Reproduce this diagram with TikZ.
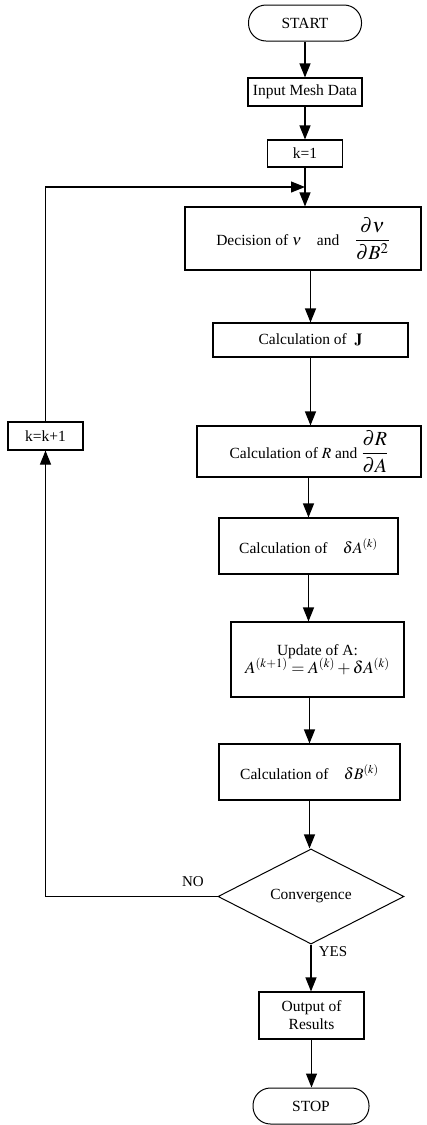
\documentclass[tikz,border=0pt]{standalone}
\usepackage{mathptmx}
\usepackage{amsmath}
\usepackage[no-math]{fontspec}
\setmainfont{Liberation Serif}
\usetikzlibrary{arrows.meta,shapes.geometric}
\begin{document}
\begin{tikzpicture}[x=1pt,y=-1pt,
  box/.style={draw,line width=1.1pt,rectangle,inner sep=0pt,align=center,font=\fontsize{15.5}{18}\selectfont},
  term/.style={draw,line width=1pt,rectangle,rounded corners=17.5pt,inner sep=0pt,font=\fontsize{15.5}{18}\selectfont},
  decis/.style={draw,line width=1pt,diamond,inner sep=0pt,font=\fontsize{15.5}{18}\selectfont},
  lbl/.style={inner sep=0pt,font=\fontsize{15}{18}\selectfont},
  ln/.style={line width=1.1pt},
  arr/.style={line width=1.1pt,-{Triangle[length=14pt,width=11pt]}}]
\useasboundingbox (0,0) rectangle (427,1125);
\node[term,minimum width=113pt,minimum height=36pt] (start) at (305,23) {START};
\node[box,minimum width=114pt,minimum height=28pt] (input) at (305,92) {Input Mesh Data};
\node[box,minimum width=75pt,minimum height=27pt] (k1) at (305,153.5) {k=1};
\node[box,minimum width=236pt,minimum height=63pt] (dec) at (303,238.5)
  {Decision of $\nu$\quad and\quad {\fontsize{20}{23}\selectfont$\dfrac{\partial\nu}{\partial B^{2}}$}};
\node[box,minimum width=195pt,minimum height=34pt] (calcJ) at (310.5,340) {Calculation of\ \ $\mathbf{J}$};
\node[box,minimum width=224pt,minimum height=51pt] (calcR) at (309,451.5)
  {Calculation of\ $R$ and {\fontsize{20}{23}\selectfont$\dfrac{\partial R}{\partial A}$}};
\node[box,minimum width=179pt,minimum height=56pt] (dA) at (308.5,546)
  {Calculation of\quad {\fontsize{16}{19}\selectfont$\delta A^{(k)}$}};
\node[box,minimum width=173pt,minimum height=75pt] (upd) at (317.5,659.5)
  {Update of A:\\[-2pt] {\fontsize{17}{20}\selectfont$A^{(k+1)}=A^{(k)}+\delta A^{(k)}$}};
\node[box,minimum width=181pt,minimum height=56pt] (dB) at (309.5,772)
  {Calculation of\quad {\fontsize{16}{19}\selectfont$\delta B^{(k)}$}};
\node[decis,minimum width=186pt,minimum height=83pt] (conv) at (311,896.5) {Convergence};
\node[box,minimum width=75pt,minimum height=28pt] (kk) at (45.5,436) {k=k+1};
\node[box,minimum width=105pt,minimum height=47pt] (out) at (311.5,1015.5) {Output of\\Results};
\node[term,minimum width=116pt,minimum height=36pt] (stop) at (311,1106) {STOP};
\node[lbl] (no) at (193,882) {NO};
\node[lbl] (yes) at (333,952) {YES};
\coordinate (join) at (305,187);
\draw[arr] (start.south) -- (start.south |- input.north);
\draw[arr] (input.south) -- (input.south |- k1.north);
\draw[arr] (k1.south) -- (k1.south |- dec.north);
\draw[arr] (dec.south -| calcJ.north) -- (calcJ.north);
\draw[arr] (calcJ.south) -- (calcJ.south |- calcR.north);
\draw[arr] (calcR.south -| dA.north) -- (dA.north);
\draw[arr] (dA.south) -- (dA.south |- upd.north);
\draw[arr] (upd.south -| dB.north) -- (dB.north);
\draw[arr] (dB.south) -- (dB.south |- conv.north);
\draw[arr] (conv.south) -- (conv.south |- out.north);
\draw[arr] (out.south) -- (out.south |- stop.north);
\draw[arr] (conv.west) -- (conv.west -| kk.south) -- (kk.south);
\draw[arr] (kk.north) |- (join);
\end{tikzpicture}
\end{document}
